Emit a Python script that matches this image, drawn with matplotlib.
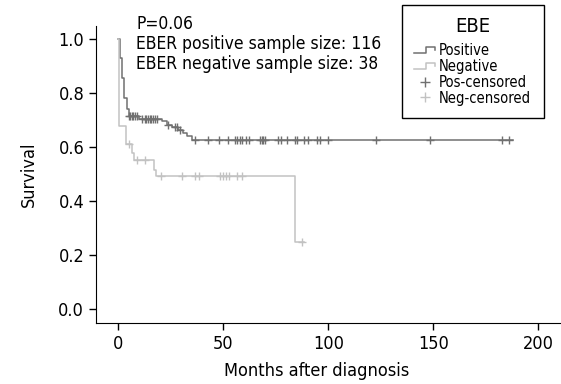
import matplotlib
matplotlib.use("Agg")
import matplotlib.pyplot as plt
import numpy as np
from matplotlib.lines import Line2D
from matplotlib.legend_handler import HandlerBase

plt.rcParams['font.family'] = ['Liberation Sans Narrow', 'DejaVu Sans']
plt.rcParams['font.stretch'] = 'condensed'

# Kaplan-Meier steps
pos_times = [0, 0.8, 1.6, 2.9, 4.1, 5.1, 10, 20.7, 23, 25.4, 28.6, 31, 32.9, 35, 188]
pos_surv = [1.0, 0.93, 0.855, 0.78, 0.74, 0.716, 0.705, 0.695, 0.68, 0.674, 0.664, 0.652, 0.642, 0.627, 0.627]
neg_times = [0, 0.5, 3.5, 6.7, 7.6, 17.1, 18, 84.1, 88.4]
neg_surv = [1.0, 0.676, 0.61, 0.578, 0.55, 0.516, 0.491, 0.247, 0.247]

# censored observations
pos_cens_t = [5.3, 5.8, 6.4, 7.2, 8.0, 8.8, 11.5, 12.5, 13.3, 14.1, 14.9, 15.7, 16.5, 17.5, 18.5,
              23.8, 27.0, 28.0, 29.2, 36.5, 42.6, 47.9, 52.1, 55.6, 56.7, 58, 59.1, 60.7, 62.2,
              67.5, 68.3, 69, 70, 75.9, 77.5, 80.2, 84.1, 84.9, 88.4, 90.2, 94.5, 96, 100,
              122.7, 148.6, 182.7, 186]
neg_cens_t = [5.1, 8.8, 12.7, 20.3, 30.5, 36.3, 38.4, 48.4, 50, 51.1, 52.7, 56.4, 59, 87.3]


def surv_at(t, times, surv):
    i = np.searchsorted(times, t, side='right') - 1
    return surv[i]


pos_cens_s = [surv_at(t, pos_times, pos_surv) for t in pos_cens_t]
neg_cens_s = [surv_at(t, neg_times, neg_surv) for t in neg_cens_t]

dark = '#707070'
light = '#c2c2c2'


class StepHandler(HandlerBase):
    def create_artists(self, legend, orig_handle, xdescent, ydescent, width, height, fontsize, trans):
        x0 = -xdescent
        y0 = -ydescent
        xs = [x0, x0 + 0.55 * width, x0 + 0.55 * width, x0 + width, x0 + width]
        ys = [y0 + 0.2 * height, y0 + 0.2 * height, y0 + 0.8 * height, y0 + 0.8 * height, y0 + 0.5 * height]
        ln = Line2D(xs, ys, color=orig_handle.get_color(), lw=orig_handle.get_linewidth(), transform=trans)
        return [ln]


fig = plt.figure(figsize=(5.61, 3.84), dpi=100)
ax = fig.add_axes([96 / 561, 1 - 323 / 384, 1 - 96 / 561, (323 - 26) / 384])

l1, = ax.step(pos_times, pos_surv, where='post', color=dark, lw=1.1)
l2, = ax.step(neg_times, neg_surv, where='post', color=light, lw=1.1)
m1, = ax.plot(pos_cens_t, pos_cens_s, '+', color=dark, ms=6, mew=1.0, ls='none')
m2, = ax.plot(neg_cens_t, neg_cens_s, '+', color=light, ms=6, mew=1.0, ls='none')

ax.set_xlim(-10.6, 210.8)
ax.set_ylim(-0.052, 1.048)
ax.set_xticks([0, 50, 100, 150, 200])
ax.set_yticks([0.0, 0.2, 0.4, 0.6, 0.8, 1.0])
ax.set_yticklabels(['0.0', '0.2', '0.4', '0.6', '0.8', '1.0'])
ax.tick_params(labelsize=13, length=5, width=1, direction='out')
ax.spines['top'].set_visible(False)
ax.spines['right'].set_visible(False)
ax.set_xlabel('Months after diagnosis', fontsize=13)
ax.xaxis.set_label_coords(0.475, -0.13)
ax.set_ylabel('Survival', fontsize=13)
ax.yaxis.set_label_coords(-0.125, 0.5)

fig.text(136 / 561, 1 - 29 / 384, 'P=0.06', fontsize=12.5, va='baseline')
fig.text(136 / 561, 1 - 49 / 384, 'EBER positive sample size: 116', fontsize=12.5, va='baseline')
fig.text(136 / 561, 1 - 69 / 384, 'EBER negative sample size: 38', fontsize=12.5, va='baseline')

leg = ax.legend([l1, l2, m1, m2], ['Positive', 'Negative', 'Pos-censored', 'Neg-censored'],
                title='EBE', fontsize=10.5, title_fontsize=14.5, markerscale=1.3,
                handler_map={l1: StepHandler(), l2: StepHandler()},
                loc='upper left', bbox_to_anchor=(402 / 561, 1 - 5 / 384), bbox_transform=fig.transFigure,
                borderaxespad=0, frameon=True, fancybox=False, edgecolor='black', framealpha=1,
                handlelength=1.4, handletextpad=0.3, labelspacing=0.05, borderpad=0.85)
leg._legend_box.sep = 5
leg.get_frame().set_linewidth(1.0)

fig.savefig('out.png', dpi=100)
